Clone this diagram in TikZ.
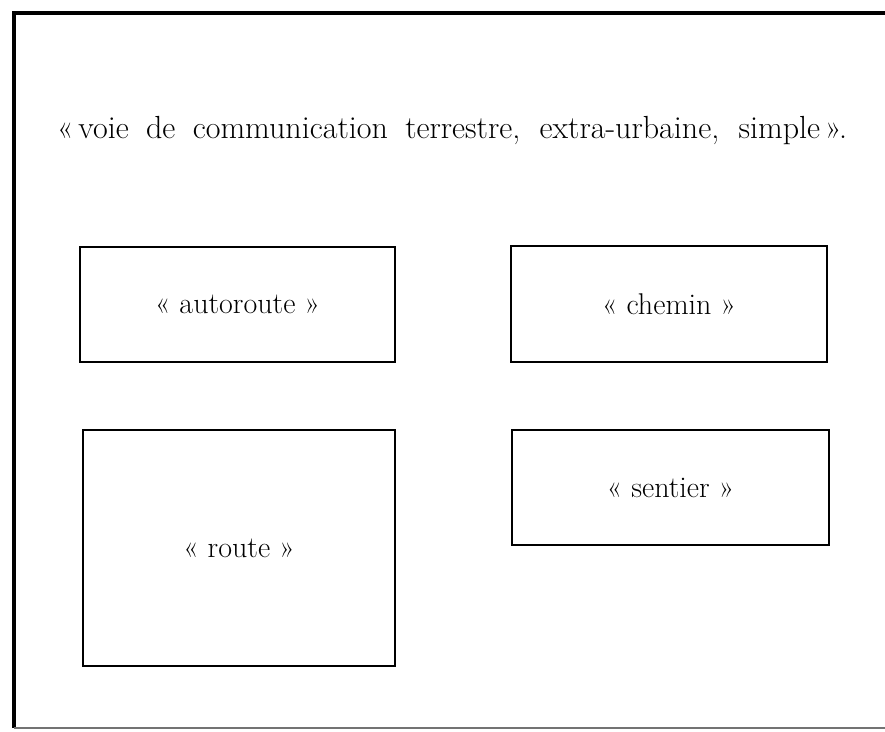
\documentclass[tikz,border=0pt]{standalone}
\usepackage{fontspec}

\tikzset{
  boite/.style={draw, line width=1.7, inner sep=0pt, font=\fontsize{30}{36}\selectfont},
}

\begin{document}
\begin{tikzpicture}[x=1pt, y=-1pt]

 \useasboundingbox (0,0) rectangle (885,731);

  %%%%%%%%%% Points du cadre %%%%%%%%%%
 \coordinate (0) at (14,13);
 \coordinate (1) at (885,13);
 \coordinate (2) at (14,728);
 \coordinate (3) at (885,728);

 %%%%%%%%%% Cadre %%%%%%%%%%
 \draw [line width=4.5] (1) -- (0) -- (2) ;
 \draw [line width=2, color=black!55] (2) -- (3) ;

 %%%%%%%%%% Definition %%%%%%%%%%
 \node [anchor=base, inner sep=0pt, font=\fontsize{32}{38}\selectfont] (def) at (452,138)
   {\makebox[790pt][s]{«\kern5pt voie de communication terrestre, extra-urbaine, simple\kern5pt».}};

 %%%%%%%%%% Boites %%%%%%%%%%
 \node [boite, minimum width=315, minimum height=115] (autoroute) at (237.5,304.5) {« autoroute »};
 \node [boite, minimum width=316, minimum height=116] (chemin) at (669,304) {« chemin »};
 \node [boite, minimum width=312, minimum height=236] (route) at (239,548) {« route »};
 \node [boite, minimum width=317, minimum height=115] (sentier) at (670.5,487.5) {« sentier »};

\end{tikzpicture}
\end{document}
